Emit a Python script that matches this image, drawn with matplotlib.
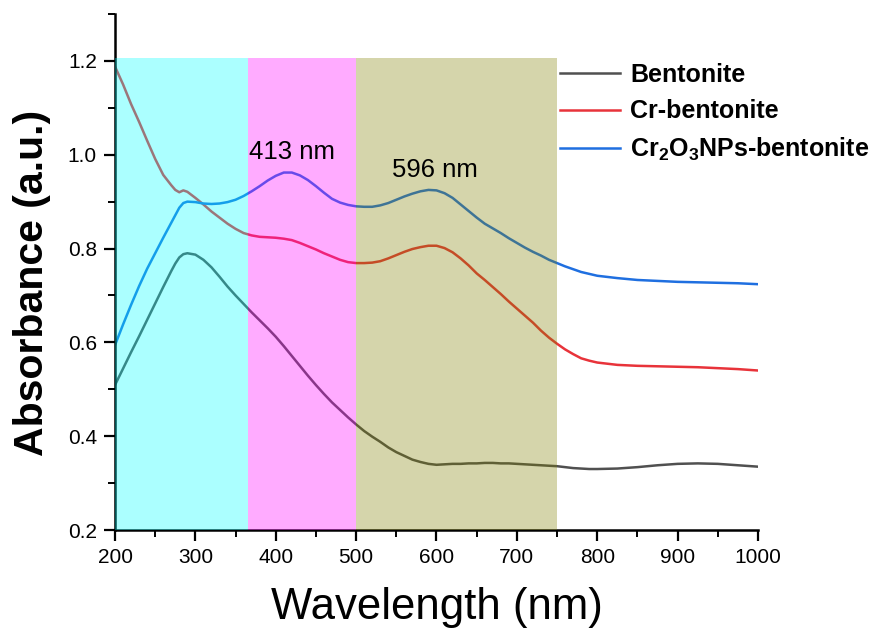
import matplotlib
matplotlib.use("Agg")
import matplotlib.pyplot as plt
from matplotlib.patches import Rectangle
from matplotlib.ticker import MultipleLocator, FormatStrFormatter

plt.rcParams['font.family'] = ['Liberation Sans', 'DejaVu Sans']
plt.rcParams['mathtext.fontset'] = 'custom'
plt.rcParams['mathtext.rm'] = 'Liberation Sans'
plt.rcParams['mathtext.bf'] = 'Liberation Sans:bold'
plt.rcParams['mathtext.it'] = 'Liberation Sans:italic'

wavelength = [200, 210, 220, 230, 240, 250, 260, 270, 275, 280, 285, 290, 300, 310, 320, 330, 340, 350,
              360, 370, 380, 390, 400, 410, 420, 430, 440, 450, 460, 470, 480, 490, 500, 510,
              520, 530, 540, 550, 560, 570, 580, 590, 600, 610, 620, 630, 640, 650, 660, 670,
              680, 690, 700, 710, 720, 730, 740, 750, 760, 770, 780, 790, 800, 825, 850, 875,
              900, 925, 950, 975, 1000]

bentonite = [0.509, 0.544, 0.579, 0.613, 0.648, 0.683, 0.718, 0.752, 0.768, 0.781, 0.788, 0.790,
             0.787, 0.776, 0.760, 0.740, 0.719, 0.700,
             0.682, 0.664, 0.647, 0.630, 0.612, 0.592, 0.571, 0.550, 0.529, 0.509, 0.490, 0.472,
             0.456, 0.440, 0.425, 0.411, 0.399, 0.388, 0.376, 0.366, 0.358, 0.350, 0.345, 0.341,
             0.339, 0.340, 0.341, 0.341, 0.342, 0.342, 0.343, 0.343,
             0.342, 0.342, 0.341, 0.340, 0.339, 0.338, 0.337, 0.336, 0.334, 0.332, 0.331, 0.330,
             0.330, 0.331, 0.334, 0.338, 0.341, 0.342, 0.341, 0.338, 0.335]

cr_bentonite = [1.188, 1.150, 1.108, 1.070, 1.030, 0.991, 0.957, 0.935, 0.925, 0.920, 0.924, 0.921,
                0.908, 0.894, 0.879, 0.866, 0.853, 0.842,
                0.833, 0.828, 0.825, 0.824, 0.823, 0.821, 0.818, 0.812, 0.805, 0.798, 0.790, 0.783,
                0.776, 0.771, 0.769, 0.769, 0.770, 0.773, 0.779, 0.786, 0.793, 0.799, 0.803, 0.806,
                0.806, 0.801, 0.792, 0.779, 0.764, 0.747, 0.733, 0.718,
                0.703, 0.687, 0.672, 0.657, 0.642, 0.625, 0.610, 0.597, 0.585, 0.575, 0.566, 0.561,
                0.557, 0.552, 0.550, 0.549, 0.548, 0.547, 0.545, 0.543, 0.540]

cr2o3_bentonite = [0.594, 0.638, 0.680, 0.720, 0.757, 0.790, 0.823, 0.855, 0.871, 0.887, 0.897, 0.900,
                   0.899, 0.896, 0.895, 0.896, 0.899, 0.904,
                   0.912, 0.922, 0.933, 0.945, 0.955, 0.962, 0.962, 0.956, 0.946, 0.933, 0.919, 0.906,
                   0.898, 0.893, 0.890, 0.889, 0.889, 0.892, 0.897, 0.904, 0.911, 0.917, 0.922, 0.925,
                   0.924, 0.918, 0.908, 0.894, 0.880, 0.866, 0.853, 0.843,
                   0.833, 0.822, 0.812, 0.802, 0.793, 0.785, 0.776, 0.769, 0.762, 0.756, 0.750, 0.746,
                   0.742, 0.737, 0.733, 0.731, 0.729, 0.728, 0.727, 0.726, 0.724]

series_labels = ['Bentonite', 'Cr-bentonite', r'Cr$\mathbf{_2}$O$\mathbf{_3}$NPs-bentonite']
series_colors = ['#505050', '#E8333A', '#1F6FE0']

band_edges = [200, 365, 500, 750]
band_colors = ['#00FFFF', '#FF00FF', '#808000']
band_top = 1.207

peak_labels = ['413 nm', '596 nm']
peak_pos = [(420, 1.006), (598, 0.968)]

xticks = [200, 300, 400, 500, 600, 700, 800, 900, 1000]
yticks = [0.2, 0.4, 0.6, 0.8, 1.0, 1.2]

fig = plt.figure(figsize=(8.86, 6.28), dpi=100)
ax = fig.add_axes([115/886, 1-530/628, (758-115)/886, (530-14)/628])

for y, lab, c in zip([bentonite, cr_bentonite, cr2o3_bentonite], series_labels, series_colors):
    ax.plot(wavelength, y, color=c, lw=1.8, label=lab, zorder=2)

for i in range(3):
    ax.add_patch(Rectangle((band_edges[i], 0.2), band_edges[i+1]-band_edges[i], band_top-0.2,
                           facecolor=band_colors[i], alpha=0.33, lw=0, zorder=3))

for t, (x, y) in zip(peak_labels, peak_pos):
    ax.text(x, y, t, fontsize=18.5, ha='center', va='center', zorder=4)

ax.set_xlim(200, 1000)
ax.set_ylim(0.2, 1.3)
ax.set_xticks(xticks)
ax.set_yticks(yticks)
ax.xaxis.set_minor_locator(MultipleLocator(50))
ax.yaxis.set_minor_locator(MultipleLocator(0.1))
ax.yaxis.set_major_formatter(FormatStrFormatter('%.1f'))
for s in ['top', 'right']:
    ax.spines[s].set_visible(False)
for s in ['left', 'bottom']:
    ax.spines[s].set_linewidth(1.8)
ax.tick_params(which='major', direction='out', length=8, width=1.6, labelsize=15, pad=5)
ax.tick_params(which='minor', direction='out', length=5, width=1.4)

ax.set_xlabel('Wavelength (nm)', fontsize=31.5, labelpad=14)
ax.set_ylabel('Absorbance (a.u.)', fontsize=29.5, fontweight='bold')
ax.yaxis.set_label_coords(-0.099, 0.479)

leg = fig.legend(loc='upper left', bbox_to_anchor=(560/886, 1-63/628), frameon=False,
                 prop={'size': 18, 'weight': 'bold'}, handlelength=2.4, handletextpad=0.4,
                 labelspacing=0.5, borderpad=0, borderaxespad=0)

fig.savefig('out.png', dpi=100)
